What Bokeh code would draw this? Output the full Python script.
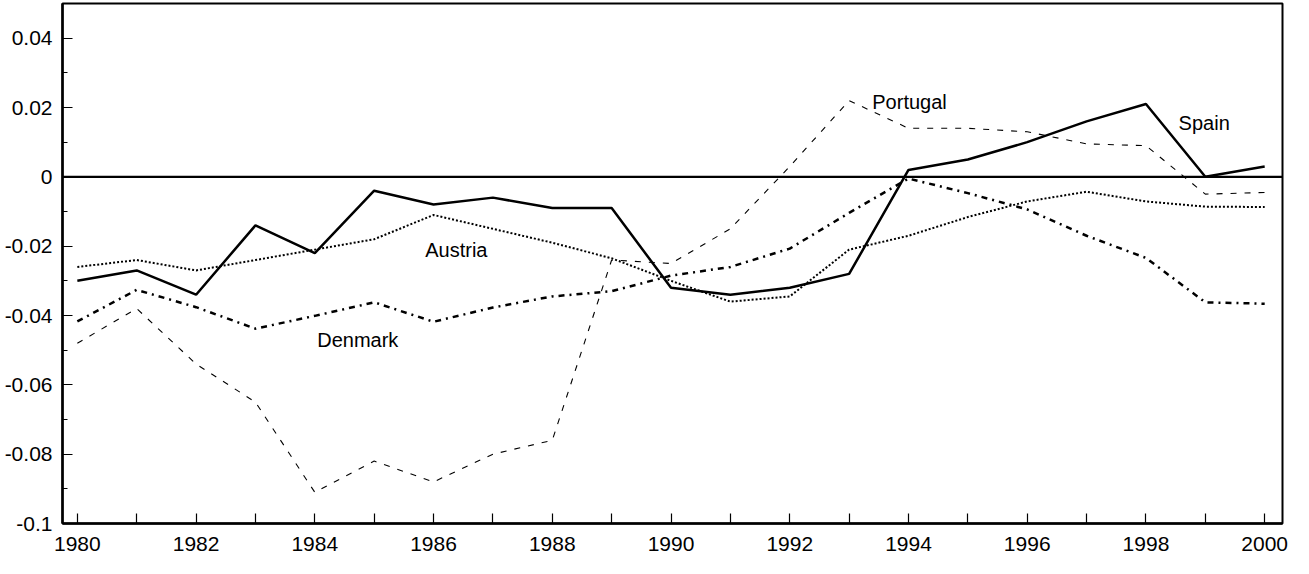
from bokeh.plotting import figure
from bokeh.models import FixedTicker, Span, Label
from bokeh.embed import file_html
from bokeh.resources import INLINE

# ---- data ----
years = list(range(1980, 2001))
spain = [-0.030, -0.027, -0.034, -0.014, -0.022, -0.004, -0.008, -0.006, -0.009, -0.009,
         -0.032, -0.034, -0.032, -0.028, 0.002, 0.005, 0.010, 0.016, 0.021, 0.000, 0.003]
portugal = [-0.048, -0.038, -0.054, -0.065, -0.091, -0.082, -0.088, -0.080, -0.076, -0.024,
            -0.025, -0.015, 0.003, 0.022, 0.014, 0.014, 0.013, 0.0095, 0.009, -0.005, -0.0045]
austria = [-0.026, -0.024, -0.027, -0.024, -0.021, -0.018, -0.011, -0.015, -0.019, -0.0235,
           -0.030, -0.036, -0.0345, -0.021, -0.017, -0.0116, -0.0071, -0.0043, -0.0071, -0.0086, -0.0087]
denmark = [-0.0417, -0.0326, -0.0376, -0.0438, -0.0401, -0.0362, -0.0418, -0.0377, -0.0345, -0.033,
           -0.0285, -0.026, -0.0207, -0.0104, -0.0005, -0.0047, -0.0094, -0.017, -0.0234, -0.0362, -0.0366]

x_major = [1980, 1982, 1984, 1986, 1988, 1990, 1992, 1994, 1996, 1998, 2000]
x_minor = [1981, 1983, 1985, 1987, 1989, 1991, 1993, 1995, 1997, 1999]
y_major = [-0.1, -0.08, -0.06, -0.04, -0.02, 0.0, 0.02, 0.04]
y_minor = [-0.09, -0.07, -0.05, -0.03, -0.01, 0.01, 0.03]
y_tick_labels = ["-0.1", "-0.08", "-0.06", "-0.04", "-0.02", "0", "0.02", "0.04"]

FONT = "Liberation Sans"

p = figure(width=1292, height=560, output_backend="svg", toolbar_location=None,
           x_range=(1979.75, 2000.3), y_range=(-0.1, 0.05),
           min_border_left=62, min_border_right=10, min_border_top=3, min_border_bottom=37)
p.background_fill_color = "white"
p.border_fill_color = "white"
p.grid.visible = False
p.outline_line_color = "black"
p.outline_line_width = 2

# axes
p.xaxis.ticker = FixedTicker(ticks=x_major, minor_ticks=x_minor)
p.yaxis.ticker = FixedTicker(ticks=y_major, minor_ticks=y_minor)
p.yaxis.major_label_overrides = {v: s for v, s in zip(y_major, y_tick_labels)}
p.xaxis.major_label_overrides = {v: str(v) for v in x_major}
for ax in (p.xaxis, p.yaxis):
    ax.axis_line_width = 2.5
    ax.axis_line_color = "black"
    ax.major_tick_in = 10
    ax.major_tick_out = 0
    ax.minor_tick_out = 0
    ax.major_tick_line_width = 1.2
    ax.minor_tick_line_width = 1.2
    ax.major_label_text_font = FONT
    ax.major_label_text_font_size = "21px"
    ax.major_label_text_color = "black"
p.xaxis.major_label_standoff = 13
p.yaxis.major_label_standoff = 10
p.xaxis.minor_tick_in = 10
p.yaxis.minor_tick_in = 5

# zero line
p.add_layout(Span(location=0, dimension="width", line_color="black", line_width=2.2))

# series
p.line(years, portugal, line_color="black", line_width=1.1, line_dash="6 8")
p.line(years, austria, line_color="black", line_width=2, line_dash="2 2")
p.line(years, denmark, line_color="black", line_width=2.5, line_dash="6 5 2 5")
p.line(years, spain, line_color="black", line_width=2.5)

# labels
for txt, lx, ly in [("Portugal", 1993.39, 0.0217), ("Spain", 1998.55, 0.0154),
                    ("Austria", 1985.86, -0.021), ("Denmark", 1984.04, -0.0472)]:
    p.add_layout(Label(x=lx, y=ly, text=txt, text_font=FONT, text_font_size="20px",
                       text_color="black", text_baseline="alphabetic"))

open("out.html", "w").write(file_html(p, INLINE))
